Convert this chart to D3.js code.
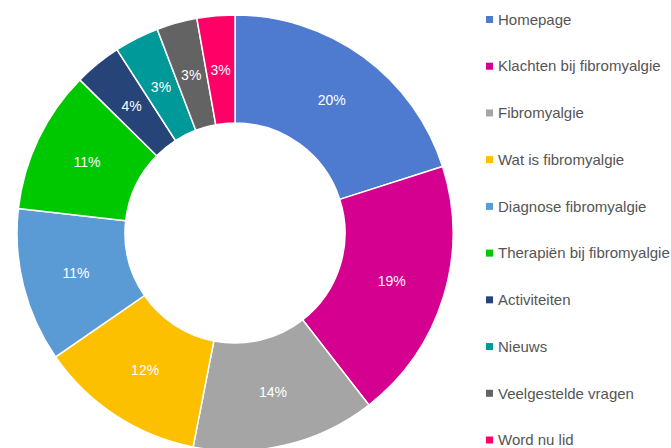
<!DOCTYPE html>
<html>
<head>
<meta charset="utf-8">
<script src="https://cdn.jsdelivr.net/npm/d3@7"></script>
<style>
  body { margin: 0; background: #fff; }
  svg { display: block; font-family: "Liberation Sans", Arial, sans-serif; }
</style>
</head>
<body>
<div id="chart"></div>
<script>
var width = 671, height = 448;

// pages and their share of visits (%)
const pages = ["Homepage", "Klachten bij fibromyalgie", "Fibromyalgie", "Wat is fibromyalgie",
  "Diagnose fibromyalgie", "Therapiën bij fibromyalgie", "Activiteiten", "Nieuws",
  "Veelgestelde vragen", "Word nu lid"];
const shares = [20.05, 19.4, 13.6, 12.3, 11.4, 10.6, 3.5, 3.3, 3.0, 2.8];
const colors = ["#4e7bcf", "#d5008f", "#a5a5a5", "#fcc000", "#5b9bd5",
  "#00c800", "#264478", "#009999", "#636363", "#ff0066"];

const cx = 235, cy = 233;
const outerR = 218, innerR = 110;

const svg = d3.select("#chart")
  .append("svg")
  .attr("width", width)
  .attr("height", height);

const color = d3.scaleOrdinal().domain(pages).range(colors);

const pie = d3.pie().sort(null).value(d => d.v);
const arc = d3.arc().innerRadius(innerR).outerRadius(outerR);

const data = pages.map((p, i) => ({ name: p, v: shares[i] }));
const total = d3.sum(shares);

const g = svg.append("g").attr("transform", `translate(${cx},${cy})`);

const slices = g.selectAll("g.slice")
  .data(pie(data))
  .enter().append("g")
  .attr("class", "slice");

slices.append("path")
  .attr("d", arc)
  .attr("fill", d => color(d.data.name))
  .attr("stroke", "#fff")
  .attr("stroke-width", 1.5);

slices.append("text")
  .attr("transform", d => `translate(${arc.centroid(d)})`)
  .attr("text-anchor", "middle")
  .attr("dy", "0.35em")
  .attr("fill", "#fff")
  .attr("font-size", "14px")
  .text(d => Math.round(100 * d.data.v / total) + "%");

// legend
const legendY = d3.scalePoint().domain(pages).range([19.5, 440]);

const legend = svg.append("g").attr("class", "legend");

const items = legend.selectAll("g")
  .data(pages)
  .enter().append("g")
  .attr("transform", d => `translate(486,${legendY(d)})`);

items.append("rect")
  .attr("y", -3.5)
  .attr("width", 7)
  .attr("height", 7)
  .attr("fill", d => color(d));

items.append("text")
  .attr("x", 12)
  .attr("dy", "0.35em")
  .attr("font-size", "15px")
  .attr("fill", "#555")
  .text(d => d);
</script>
</body>
</html>
